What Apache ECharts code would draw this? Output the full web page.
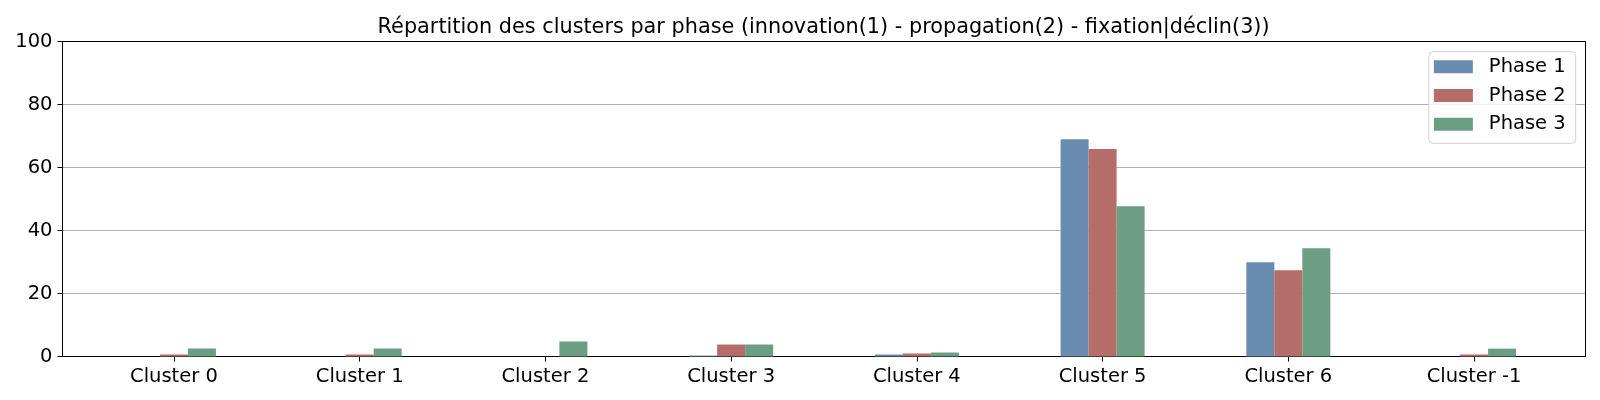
<!DOCTYPE html>
<html>
<head>
<meta charset="utf-8">
<script src="https://cdn.jsdelivr.net/npm/echarts@6/dist/echarts.min.js"></script>
<style>
html,body{margin:0;padding:0;background:#fff;}
#chart{width:1600px;height:400px;}
</style>
</head>
<body>
<div id="chart"></div>
<script>
const categories = ["Cluster 0","Cluster 1","Cluster 2","Cluster 3","Cluster 4","Cluster 5","Cluster 6","Cluster -1"];
const phase1 = [0, 0, 0, 0.3, 0.64, 69.0, 29.9, 0];
const phase2 = [0.64, 0.64, 0, 3.8, 0.95, 65.85, 27.4, 0.64];
const phase3 = [2.55, 2.55, 4.77, 3.8, 1.27, 47.7, 34.4, 2.5];
const yTicks = [0, 20, 40, 60, 80, 100];
const seriesNames = ["Phase 1", "Phase 2", "Phase 3"];
const colors = ["#6b8cb1", "#b46d68", "#6b9e82"];

const FONT = "DejaVu Sans";
const idx = categories.map((c, i) => i);
function pts(arr) { return arr.map((v, i) => [i, v]); }

const spine = {show: true, onZero: false, lineStyle: {color: '#000', width: 1}};

const chart = echarts.init(document.getElementById('chart'), null, {renderer: 'canvas'});
chart.setOption({
  animation: false,
  backgroundColor: '#fff',
  title: {
    text: 'Répartition des clusters par phase (innovation(1) - propagation(2) - fixation|déclin(3))',
    left: 818.6, textAlign: 'center', top: 12,
    textStyle: {fontFamily: FONT, fontSize: 20.8, fontWeight: 'normal', color: '#000'}
  },
  legend: {
    orient: 'vertical',
    right: 24.3, top: 51.7,
    padding: [5, 10, 9, 5],
    itemWidth: 39, itemHeight: 13, itemGap: 8.8,
    backgroundColor: 'rgba(255,255,255,0.8)',
    borderColor: '#d0d0d0', borderWidth: 1, borderRadius: 4,
    icon: 'rect',
    textStyle: {fontFamily: FONT, fontSize: 19.5, color: '#000', lineHeight: 19.5, padding: [0, 0, 0, 11]},
    data: seriesNames
  },
  grid: {
    left: 62.5, right: 14.5, top: 41.5, bottom: 43.5,
    show: false, containLabel: false
  },
  xAxis: [{
    type: 'value', min: -0.6, max: 7.6,
    axisLine: spine,
    axisTick: {show: true, length: 5, lineStyle: {color: '#000'}, customValues: idx},
    axisLabel: {
      customValues: idx, margin: 10,
      fontFamily: FONT, fontSize: 19.5, color: '#000',
      formatter: v => categories[Math.round(v)]
    },
    splitLine: {show: false}
  }, {
    type: 'value', position: 'top', min: -0.6, max: 7.6,
    axisLine: spine, axisTick: {show: false}, axisLabel: {show: false}, splitLine: {show: false}
  }],
  yAxis: [{
    type: 'value', min: 0, max: 100, interval: 20,
    axisLine: spine,
    axisTick: {show: true, length: 5, lineStyle: {color: '#000'}},
    axisLabel: {margin: 10, fontFamily: FONT, fontSize: 19.5, color: '#000', formatter: v => yTicks.includes(v) ? String(v) : ''},
    splitLine: {show: true, lineStyle: {color: '#b0b0b0', width: 1}}
  }, {
    type: 'value', position: 'right', min: 0, max: 100, interval: 20,
    axisLine: spine, axisTick: {show: false}, axisLabel: {show: false}, splitLine: {show: false}
  }],
  series: [phase1, phase2, phase3].map((d, k) => ({
    name: seriesNames[k], type: 'bar', data: pts(d),
    barWidth: 28, barGap: '0%',
    itemStyle: {color: colors[k]}
  }))
});
</script>
</body>
</html>
